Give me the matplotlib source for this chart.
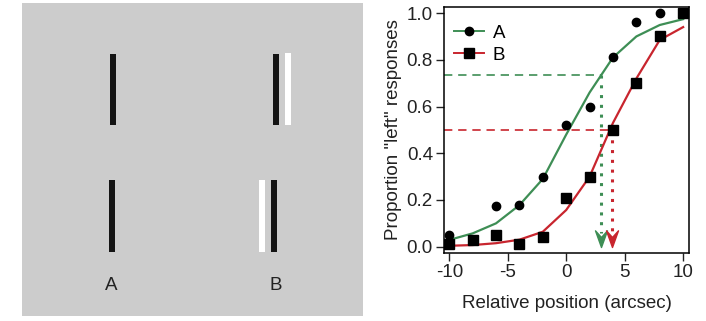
import matplotlib.pyplot as plt
from matplotlib.patches import Rectangle
from matplotlib.path import Path

plt.rcParams['font.family'] = ['Liberation Sans', 'DejaVu Sans']
plt.rcParams['axes.unicode_minus'] = False

# data
positions = [-10, -8, -6, -4, -2, 0, 2, 4, 6, 8, 10]
resp_a_x = [-10, -6, -4, -2, 0, 2, 4, 6, 8]
resp_a = [0.05, 0.175, 0.18, 0.30, 0.52, 0.60, 0.81, 0.96, 1.00]
resp_b = [0.01, 0.03, 0.05, 0.01, 0.04, 0.21, 0.30, 0.50, 0.70, 0.90, 1.00]
fit_a = [0.029, 0.057, 0.10, 0.178, 0.29, 0.48, 0.66, 0.81, 0.90, 0.949, 0.974]
fit_b = [0.004, 0.007, 0.015, 0.03, 0.064, 0.157, 0.30, 0.53, 0.72, 0.885, 0.94]
thresh_a = (2.95, 0.733)
thresh_b = (3.9, 0.50)
labels = ['A', 'B']

green = '#3e8e55'
red = '#c8252e'
txt = '#222222'
fs = 13.5

fig = plt.figure(figsize=(7.06, 3.21), dpi=100)

# left panel: stimulus sketch, in pixel units
bg = fig.add_axes([0, 0, 1, 1])
bg.set_xlim(0, 706)
bg.set_ylim(321, 0)
bg.axis('off')
bg.add_patch(Rectangle((22, 3), 341, 313, facecolor='#cccccc', edgecolor='none'))
bars = [  # x, y, w, h, colour
    (110, 54, 6, 71, '#141414'),
    (108.5, 180, 6, 72, '#141414'),
    (272.7, 54, 6, 71, '#141414'),
    (284.5, 53, 6, 72, 'white'),
    (258.7, 180, 6, 72, 'white'),
    (270.7, 180, 6, 72, '#141414'),
]
for x, y, w, h, c in bars:
    bg.add_patch(Rectangle((x, y), w, h, facecolor=c, edgecolor='none'))
bg.text(111, 285, labels[0], ha='center', va='center', fontsize=fs, color=txt)
bg.text(276, 285, labels[1], ha='center', va='center', fontsize=fs, color=txt)

# right panel: psychometric functions
ax = fig.add_axes([444 / 706, 1 - 253 / 321, 245 / 706, 246 / 321])
ax.set_xlim(-10.45, 10.5)
ax.set_ylim(-0.027, 1.026)

ax.plot(positions, fit_a, color=green, lw=1.6, zorder=2)
ax.plot(positions, fit_b, color=red, lw=1.6, zorder=2)
ax.plot(resp_a_x, resp_a, 'o', color='black', ms=6, zorder=3)
ax.plot(positions, resp_b, 's', color='black', ms=7, zorder=3)

# threshold markers
head = Path([(0, 0), (0.36, 1), (0, 0.6), (-0.36, 1), (0, 0)],
            [Path.MOVETO, Path.LINETO, Path.LINETO, Path.LINETO, Path.CLOSEPOLY])
for (tx, ty), c in [(thresh_a, green), (thresh_b, red)]:
    ax.plot([-10.45, tx], [ty, ty], color=c, lw=1.2, ls=(0, (5, 3.5)), zorder=1)
    ax.plot([tx, tx], [ty, 0.06], color=c, lw=2.2, ls=(0, (1, 2.2)), zorder=1)
    ax.plot([tx], [0.0], marker=head, ms=24, color=c, mec=c, ls='none', zorder=4)

# legend
ax.plot([], [], color=green, lw=1.4, marker='o', mfc='black', mec='black', ms=6, label=labels[0])
ax.plot([], [], color=red, lw=1.4, marker='s', mfc='black', mec='black', ms=6.5, label=labels[1])
ax.legend(loc='upper left', bbox_to_anchor=(-0.03, 1.0), frameon=False, fontsize=fs,
          handlelength=1.6, handletextpad=0.45, labelspacing=0.25,
          borderaxespad=0.55, borderpad=0.4)

ax.set_xticks([-10, -5, 0, 5, 10])
ax.set_yticks([0, 0.2, 0.4, 0.6, 0.8, 1.0])
ax.set_yticklabels(['0.0', '0.2', '0.4', '0.6', '0.8', '1.0'])
ax.tick_params(direction='out', length=6, width=1, pad=2, labelsize=fs, colors=txt)
for s in ax.spines.values():
    s.set_linewidth(1.1)
ax.set_xlabel('Relative position (arcsec)', fontsize=fs, color=txt, labelpad=10)
ax.set_ylabel('Proportion "left" responses', fontsize=fs, color=txt, labelpad=3)

fig.savefig('out.png', dpi=100)
